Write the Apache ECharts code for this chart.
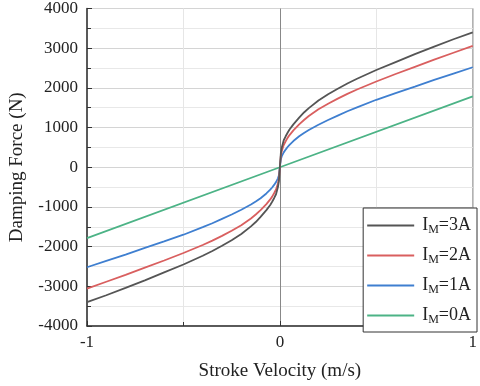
<!DOCTYPE html>
<html>
<head>
<meta charset="utf-8">
<script src="https://cdn.jsdelivr.net/npm/echarts@6/dist/echarts.min.js"></script>
<style>html,body{margin:0;padding:0;background:#fff}#c{width:480px;height:386px}</style>
</head>
<body>
<div id="c"></div>
<script>
var velocity = [-1, -0.9, -0.8, -0.7, -0.6, -0.5, -0.4, -0.35, -0.3, -0.25, -0.2, -0.15, -0.125, -0.1, -0.07, -0.05, -0.04, -0.03, -0.02, -0.01, -0.005, 0, 0.005, 0.01, 0.02, 0.03, 0.04, 0.05, 0.07, 0.1, 0.125, 0.15, 0.2, 0.25, 0.3, 0.35, 0.4, 0.5, 0.6, 0.7, 0.8, 0.9, 1];
var force3A = [-3400, -3225, -3040, -2850, -2650, -2450, -2230, -2110, -1980, -1840, -1680, -1490, -1380, -1250, -1080, -950, -870, -780, -680, -500, -350, 0, 350, 500, 680, 780, 870, 950, 1080, 1250, 1380, 1490, 1680, 1840, 1980, 2110, 2230, 2450, 2650, 2850, 3040, 3225, 3400];
var force2A = [-3060, -2885, -2710, -2530, -2350, -2160, -1960, -1850, -1730, -1600, -1460, -1290, -1190, -1080, -930, -810, -740, -655, -560, -410, -290, 0, 290, 410, 560, 655, 740, 810, 930, 1080, 1190, 1290, 1460, 1600, 1730, 1850, 1960, 2160, 2350, 2530, 2710, 2885, 3060];
var force1A = [-2520, -2360, -2200, -2030, -1870, -1700, -1510, -1410, -1300, -1190, -1070, -940, -865, -780, -660, -565, -510, -445, -375, -280, -200, 0, 200, 280, 375, 445, 510, 565, 660, 780, 865, 940, 1070, 1190, 1300, 1410, 1510, 1700, 1870, 2030, 2200, 2360, 2520];
var velocity0A = [-1, 0, 1];
var force0A = [-1785, 0, 1785];
var seriesNames = ['3A', '2A', '1A', '0A'];
var seriesColors = ['#555555', '#d95f5f', '#3f7fd0', '#4cb386'];
var xTitle = 'Stroke Velocity (m/s)';
var yTitle = 'Damping Force (N)';

function pairs(xs, ys) { return xs.map(function (x, i) { return [x, ys[i]]; }); }
var dataSets = [pairs(velocity, force3A), pairs(velocity, force2A), pairs(velocity, force1A), pairs(velocity0A, force0A)];

var serif = '"Liberation Serif", "Times New Roman", serif';
var chart = echarts.init(document.getElementById('c'));
chart.setOption({
  animation: false,
  backgroundColor: '#fff',
  grid: { left: 77, right: 3, top: 7, bottom: 54, show: true, borderColor: '#999', borderWidth: 1 },
  xAxis: {
    type: 'value', min: -1, max: 1, interval: 1,
    name: xTitle, nameLocation: 'middle', nameGap: 36,
    nameTextStyle: { fontFamily: serif, fontSize: 19, color: '#222' },
    axisLine: { onZero: false, lineStyle: { color: '#333', width: 1.5 } },
    axisTick: { inside: true, length: 5, lineStyle: { color: '#333' } },
    minorTick: { show: true, splitNumber: 2, length: 4, lineStyle: { color: '#333' } },
    axisLabel: { fontFamily: serif, fontSize: 17, color: '#222', margin: 8, formatter: function (v) { return String(v); } },
    splitLine: { show: true, lineStyle: { color: ['#ccc', '#888', '#ccc'], width: 1 } },
    minorSplitLine: { show: true, lineStyle: { color: '#e6e6e6' } }
  },
  yAxis: {
    type: 'value', min: -4000, max: 4000, interval: 1000,
    name: yTitle, nameLocation: 'middle', nameGap: 60,
    nameTextStyle: { fontFamily: serif, fontSize: 19, color: '#222' },
    axisLine: { onZero: false, lineStyle: { color: '#333', width: 1.5 } },
    axisTick: { inside: true, length: 5, lineStyle: { color: '#333' } },
    minorTick: { show: true, splitNumber: 2, length: 4, lineStyle: { color: '#333' } },
    axisLabel: { fontFamily: serif, fontSize: 17, color: '#222', margin: 9, formatter: function (v) { return String(v); } },
    splitLine: { show: true, lineStyle: { color: '#d4d4d4', width: 1 } },
    minorSplitLine: { show: true, lineStyle: { color: '#e8e8e8' } }
  },
  legend: {
    orient: 'vertical', right: 3, bottom: 54,
    backgroundColor: '#fff', borderColor: '#333', borderWidth: 1,
    padding: [7, 6, 6, 4], itemGap: 9, itemWidth: 47, itemHeight: 2, icon: 'rect',
    formatter: function (name) { return '{a|I}{b|M}{a|=' + name + '}'; },
    textStyle: {
      color: '#222', padding: [0, 0, 0, 3],
      rich: {
        a: { fontFamily: serif, fontSize: 18, color: '#222', lineHeight: 21 },
        b: { fontFamily: serif, fontSize: 12, color: '#222', lineHeight: 21, padding: [9, 0, 0, 0] }
      }
    },
    data: seriesNames
  },
  series: seriesNames.map(function (n, i) {
    return {
      name: n, type: 'line', data: dataSets[i], symbol: 'none',
      lineStyle: { color: seriesColors[i], width: 1.8 }, itemStyle: { color: seriesColors[i] },
      smooth: false, z: 5 - i
    };
  })
});
</script>
</body>
</html>
